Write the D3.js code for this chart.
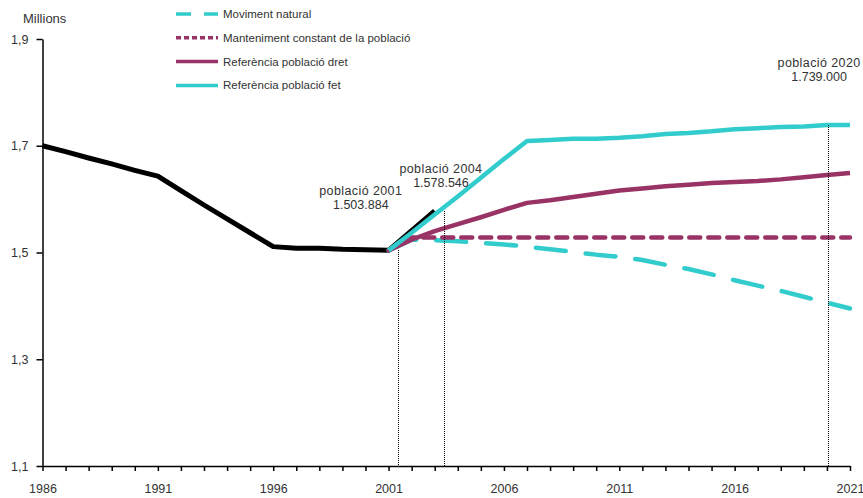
<!DOCTYPE html>
<html lang="ca">
<head>
<meta charset="UTF-8">
<title>Població</title>
<script src="https://d3js.org/d3.v7.min.js"></script>
<style>
  body { margin: 0; background: #fff; }
  svg text { font-family: "Liberation Sans", Arial, sans-serif; fill: #333; }
</style>
</head>
<body>
<svg id="chart" width="863" height="498"></svg>
<script>
// historical population (millions)
var histYears = [1986, 1987, 1988, 1989, 1990, 1991, 1992, 1993, 1994, 1995, 1996, 1997, 1998, 1999, 2000, 2001, 2002, 2003];
var histValues = [1.700, 1.689, 1.677, 1.666, 1.654, 1.643, 1.616, 1.589, 1.563, 1.537, 1.511, 1.508, 1.508, 1.506, 1.505, 1.504, 1.541, 1.578];

// projections 2001-2021
var projYears = d3.range(2001, 2022);
var movimentNatural = [1.504, 1.524, 1.523, 1.521, 1.518, 1.515, 1.511, 1.506, 1.501, 1.496, 1.492, 1.486, 1.477, 1.469, 1.459, 1.448, 1.438, 1.428, 1.417, 1.406, 1.395];
var mantenimentConstant = [1.504, 1.528, 1.528, 1.528, 1.528, 1.528, 1.528, 1.528, 1.528, 1.528, 1.528, 1.528, 1.528, 1.528, 1.528, 1.528, 1.528, 1.528, 1.528, 1.528, 1.528];
var referenciaDret = [1.504, 1.524, 1.540, 1.553, 1.566, 1.580, 1.593, 1.598, 1.604, 1.610, 1.616, 1.620, 1.624, 1.627, 1.630, 1.632, 1.634, 1.637, 1.641, 1.645, 1.649];
var referenciaFet = [1.504, 1.537, 1.571, 1.605, 1.640, 1.675, 1.709, 1.711, 1.713, 1.713, 1.715, 1.718, 1.722, 1.724, 1.727, 1.731, 1.733, 1.735, 1.736, 1.739, 1.739];

var yTicks = [1.1, 1.3, 1.5, 1.7, 1.9];
var xLabelYears = [1986, 1991, 1996, 2001, 2006, 2011, 2016, 2021];

// annotated points: where the dotted line stands and its value
var notes = [
  { at: 2001.4, value: 1.504, line1: "població 2001", line2: "1.503.884", dx: -37, dy: -55 },
  { at: 2003.4, value: 1.578, line1: "població 2004", line2: "1.578.546", dx: -3, dy: -38 },
  { at: 2020.05, value: 1.739, line1: "població 2020", line2: "1.739.000", dx: -9, dy: -58 }
];

var series = [
  { name: "Moviment natural", values: movimentNatural, color: "#33CCCC", dash: "30,20" },
  { name: "Manteniment constant de la població", values: mantenimentConstant, color: "#993366", dash: "11,8" },
  { name: "Referència població dret", values: referenciaDret, color: "#993366", dash: null },
  { name: "Referència població fet", values: referenciaFet, color: "#33CCCC", dash: null }
];

var svg = d3.select("#chart");

var x = d3.scaleLinear().domain([1986, 2021]).range([42.5, 850]);
var y = d3.scaleLinear().domain([1.1, 1.9]).range([466, 39]);

var fmt = function(d) { return d3.format(".1f")(d).replace(".", ","); };

// y axis
var yAxis = svg.append("g")
    .attr("transform", "translate(" + x(1986) + ",0)")
    .call(d3.axisLeft(y).tickValues(yTicks).tickSize(6).tickSizeOuter(0).tickFormat(fmt));
yAxis.select(".domain").attr("stroke", "#000").attr("stroke-width", 1.5);
yAxis.selectAll(".tick line").attr("stroke", "#000").attr("stroke-width", 1.5);
yAxis.selectAll(".tick text").attr("x", -14).style("font-size", "12.5px").attr("fill", "#333");

svg.append("text")
    .attr("x", 23).attr("y", 23)
    .style("font-size", "13px")
    .text("Millions");

// x axis
var xAxis = svg.append("g")
    .attr("transform", "translate(0," + y(1.1) + ")")
    .call(d3.axisBottom(x).tickValues(d3.range(1986, 2022)).tickSize(5).tickSizeOuter(0)
      .tickFormat(function(d) { return xLabelYears.indexOf(d) >= 0 ? d : ""; }));
xAxis.select(".domain").attr("stroke", "#000").attr("stroke-width", 1.5);
xAxis.selectAll(".tick line").attr("stroke", "#000").attr("stroke-width", 1.5);
xAxis.selectAll(".tick text").attr("y", 18).style("font-size", "12.5px").attr("fill", "#333");

var line = d3.line()
    .x(function(d) { return x(d[0]); })
    .y(function(d) { return y(d[1]); });

// history
svg.append("path")
    .datum(d3.zip(histYears, histValues))
    .attr("d", line)
    .attr("fill", "none")
    .attr("stroke", "#000")
    .attr("stroke-width", 5)
    .attr("stroke-linejoin", "round");

// projections
series.forEach(function(s) {
  svg.append("path")
      .datum(d3.zip(projYears, s.values))
      .attr("d", line)
      .attr("fill", "none")
      .attr("stroke", s.color)
      .attr("stroke-width", 4.5)
      .attr("stroke-linecap", s.dash ? "round" : "butt")
      .attr("stroke-linejoin", "round")
      .attr("stroke-dasharray", s.dash);
});

// dotted reference lines and labels
notes.forEach(function(n) {
  var px = Math.round(x(n.at)) + 0.5;
  svg.append("line")
      .attr("x1", px).attr("x2", px)
      .attr("y1", y(n.value)).attr("y2", y(1.1))
      .attr("stroke", "#000")
      .attr("stroke-width", 1)
      .attr("shape-rendering", "crispEdges")
      .attr("stroke-dasharray", "1,1");
  var t = svg.append("text")
      .attr("text-anchor", "middle")
      .style("font-size", "12.5px");
  t.append("tspan")
      .attr("x", x(n.at) + n.dx).attr("y", y(n.value) + n.dy)
      .style("letter-spacing", "0.4px")
      .text(n.line1);
  t.append("tspan")
      .attr("x", x(n.at) + n.dx).attr("dy", 14)
      .text(n.line2);
});

// legend
var legend = svg.append("g").attr("transform", "translate(176,14)");
series.forEach(function(s, i) {
  var g = legend.append("g").attr("transform", "translate(0," + i * 23.8 + ")");
  g.append("line")
      .attr("x1", 0).attr("x2", 42)
      .attr("stroke", s.color)
      .attr("stroke-width", 3.5)
      .attr("stroke-dasharray", s.dash ? (i === 0 ? "15,13" : "5,3") : null);
  g.append("text")
      .attr("x", 47).attr("y", 4)
      .style("font-size", "11.5px")
      .text(s.name);
});
</script>
</body>
</html>
